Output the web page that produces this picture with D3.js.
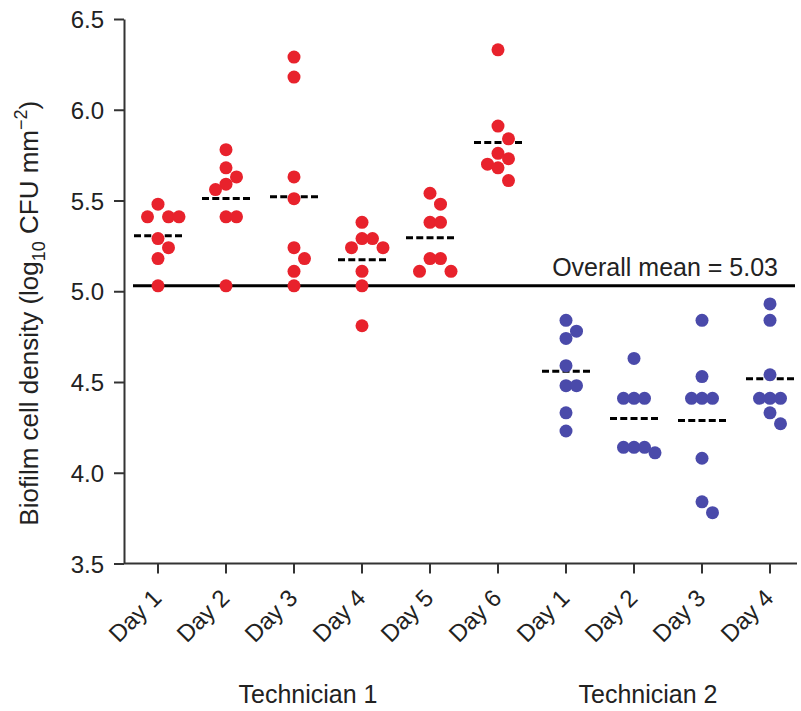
<!DOCTYPE html>
<html>
<head>
<meta charset="utf-8">
<script src="https://cdn.jsdelivr.net/npm/d3@7"></script>
<style>
  body { margin: 0; background: #fff; }
  svg { display: block; font-family: "Liberation Sans", Arial, Helvetica, sans-serif; }
  .axis path, .axis line { stroke: #333; stroke-width: 2; }
  .axis text { font-size: 24px; fill: #222; font-family: "Liberation Sans", Arial, sans-serif; }
</style>
</head>
<body>
<div id="chart"></div>
<script>
// categories along the x axis
const days = ['Day 1', 'Day 2', 'Day 3', 'Day 4', 'Day 5', 'Day 6', 'Day 1', 'Day 2', 'Day 3', 'Day 4']
const technician = [1, 1, 1, 1, 1, 1, 2, 2, 2, 2]
const technicianLabels = ['Technician 1', 'Technician 2']

// biofilm cell density, log10 CFU per mm2, one array per day
const densities = [
  [5.24, 5.41, 5.41, 5.41, 5.48, 5.29, 5.18, 5.03],
  [5.41, 5.41, 5.63, 5.78, 5.68, 5.56, 5.59, 5.03],
  [6.29, 6.18, 5.63, 5.51, 5.24, 5.18, 5.11, 5.03],
  [5.38, 5.29, 5.29, 5.24, 5.24, 5.11, 5.03, 4.81],
  [5.54, 5.48, 5.38, 5.38, 5.18, 5.18, 5.11, 5.11],
  [6.33, 5.91, 5.84, 5.76, 5.73, 5.70, 5.68, 5.61],
  [4.84, 4.78, 4.74, 4.59, 4.48, 4.48, 4.33, 4.23],
  [4.63, 4.41, 4.41, 4.41, 4.14, 4.14, 4.14, 4.11],
  [4.84, 4.53, 4.41, 4.41, 4.41, 4.08, 3.84, 3.78],
  [4.93, 4.84, 4.54, 4.41, 4.41, 4.41, 4.33, 4.27]
]
const overallMean = 5.03
const yTicks = [3.5, 4.0, 4.5, 5.0, 5.5, 6.0, 6.5]

const colors = { 1: '#e8222c', 2: '#4a4aaa' }

const width = 801
const height = 711
const margin = { top: 19, right: -3, bottom: 147.5, left: 124 }
const radius = 6.5

const svg = d3.select('#chart')
  .append('svg')
  .attr('width', width)
  .attr('height', height)

const xScale = d3.scaleBand()
  .domain(d3.range(days.length))
  .range([margin.left, width - margin.right])
  .padding(0)

const yScale = d3.scaleLinear()
  .domain([3.5, 6.5])
  .range([height - margin.bottom, margin.top])

const cx = i => xScale(i) + xScale.bandwidth() / 2

// y axis
svg.append('g')
  .attr('class', 'axis')
  .attr('transform', `translate(${margin.left},0)`)
  .call(d3.axisLeft(yScale).tickValues(yTicks).tickFormat(d3.format('.1f'))
    .tickSize(10).tickSizeOuter(0).tickPadding(10))
  .call(g => g.selectAll('text').attr('dy', '0.36em'))

// x axis with rotated day labels
svg.append('g')
  .attr('class', 'axis')
  .attr('transform', `translate(0,${yScale(3.5)})`)
  .call(d3.axisBottom(xScale).tickFormat(i => days[i]).tickSize(10).tickSizeOuter(0))
  .call(g => g.select('.domain').attr('d', `M${margin.left},0H797`))
  .call(g => g.selectAll('.tick text')
    .attr('x', 0).attr('y', 0).attr('dy', 0)
    .attr('text-anchor', 'end')
    .attr('transform', 'translate(5,36) rotate(-45)'))

// technician group labels
technicianLabels.forEach((label, t) => {
  const idx = d3.range(days.length).filter(i => technician[i] === t + 1)
  const mid = (xScale(d3.min(idx)) + xScale(d3.max(idx)) + xScale.bandwidth()) / 2
  svg.append('text')
    .attr('x', mid - 20)
    .attr('y', 703)
    .attr('text-anchor', 'middle')
    .style('font-size', '25px')
    .style('fill', '#222')
    .text(label)
})

// y axis title with sub/superscript
const title = svg.append('text')
  .attr('transform', `translate(38,${(yScale(3.5) + yScale(6.5)) / 2 + 22}) rotate(-90)`)
  .attr('text-anchor', 'middle')
  .style('font-size', '26px')
  .style('fill', '#222')
title.append('tspan').text('Biofilm cell density (log')
title.append('tspan').attr('dy', 7).style('font-size', '18px').text('10')
title.append('tspan').attr('dy', -7).text(' CFU mm')
title.append('tspan').attr('dy', -11).style('font-size', '18px').text('\u22122')
title.append('tspan').attr('dy', 11).text(')')

// overall mean line
svg.append('line')
  .attr('x1', margin.left + 9)
  .attr('x2', 795)
  .attr('y1', yScale(overallMean))
  .attr('y2', yScale(overallMean))
  .attr('stroke', '#000')
  .attr('stroke-width', 3)

svg.append('text')
  .attr('x', 778)
  .attr('y', yScale(overallMean) - 10)
  .attr('text-anchor', 'end')
  .style('font-size', '25px')
  .style('fill', '#222')
  .text(`Overall mean = ${d3.format('.2f')(overallMean)}`)

// group means as dashed lines
svg.append('g')
  .selectAll('line')
  .data(densities)
  .join('line')
  .attr('x1', (d, i) => cx(i) - 24)
  .attr('x2', (d, i) => cx(i) + 24)
  .attr('y1', d => yScale(d3.mean(d)))
  .attr('y2', d => yScale(d3.mean(d)))
  .attr('stroke', '#000')
  .attr('stroke-width', 3)
  .attr('stroke-dasharray', '7,3.25')

//simple swarm: each point takes the nearest free slot to the centre,
//points closer than a dot height vertically are pushed sideways
function swarm(values, center) {
  const step = 10.5
  const placed = []
  values.slice().sort((a, b) => b - a).forEach(v => {
    const py = yScale(v)
    for (let k = 0; k < 30; k++) {
      const off = k === 0 ? 0 : (k % 2 ? 1 : -1) * Math.ceil(k / 2) * step
      const px = center + off
      if (!placed.some(p => Math.abs(p.x - px) < step - 0.5 && Math.abs(p.y - py) < 2 * radius + 1)) {
        placed.push({ x: px, y: py, v })
        break
      }
    }
  })
  return placed
}

const points = densities.flatMap((vals, i) =>
  swarm(vals, cx(i)).map(p => ({ ...p, tech: technician[i] })))

svg.append('g')
  .selectAll('circle')
  .data(points)
  .join('circle')
  .attr('cx', d => d.x)
  .attr('cy', d => d.y)
  .attr('r', radius)
  .attr('fill', d => colors[d.tech])
</script>
</body>
</html>
